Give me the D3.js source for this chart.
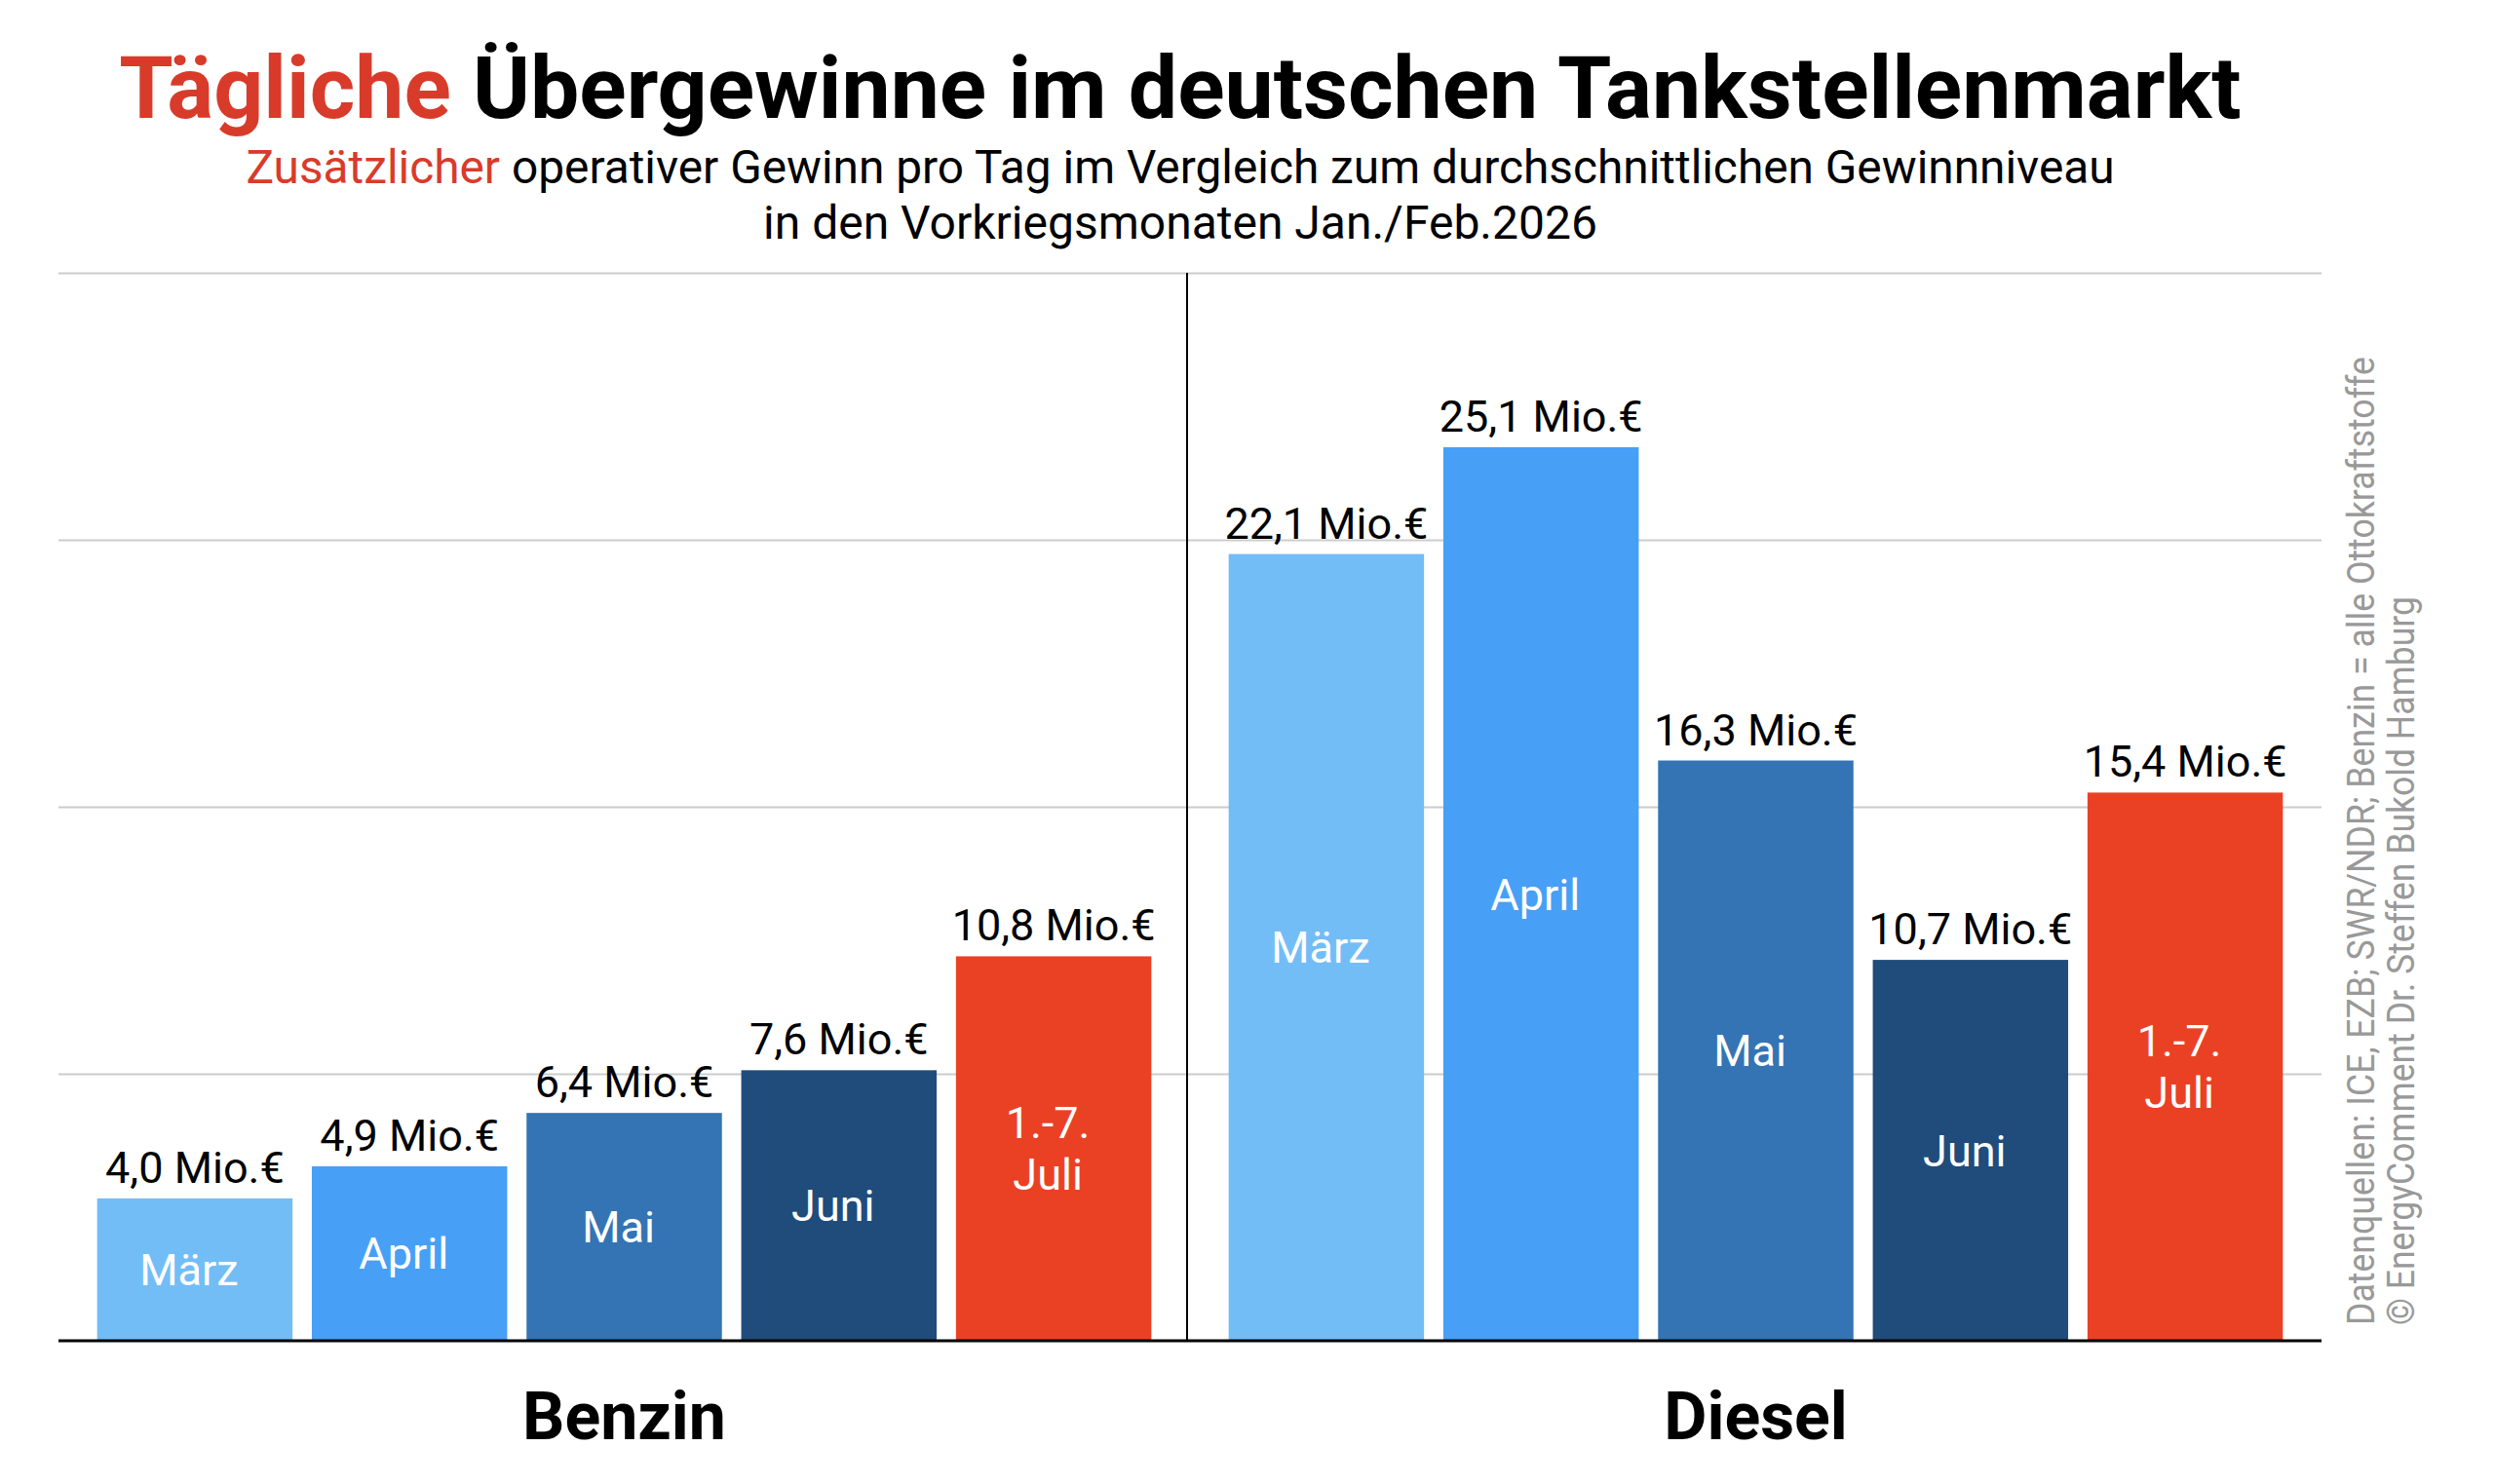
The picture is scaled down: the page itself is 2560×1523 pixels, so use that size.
<!DOCTYPE html>
<html>
<head>
<meta charset="utf-8">
<script src="https://cdn.jsdelivr.net/npm/d3@7"></script>
<style>
  body { margin: 0; background: #fff; }
  svg { font-family: Roboto, "Open Sans", sans-serif; }
</style>
</head>
<body>
<div id="chart"></div>
<script>
// Chart data
var categories = ["Benzin", "Diesel"];
var months = ["März", "April", "Mai", "Juni", "1.-7. Juli"];
var benzinValues = [4.0, 4.9, 6.4, 7.6, 10.8];
var dieselValues = [22.1, 25.1, 16.3, 10.7, 15.4];
var gridTicks = [7.5, 15, 22.5, 30];
var monthColors = ["#73bdf7", "#479ff6", "#3474b4", "#204c7c", "#ea4125"];
var sourceLines = [
    "Datenquellen: ICE, EZB; SWR/NDR; Benzin = alle Ottokraftstoffe",
    "© EnergyComment Dr. Steffen Bukold Hamburg"
];

// Chart params
var svgWidth = 2560;
var svgHeight = 1523;

var margin = {
    top: 280,
    right: 178,
    bottom: 147,
    left: 60
};

var width = svgWidth - margin.left - margin.right;
var height = svgHeight - margin.top - margin.bottom;

var svg = d3.select("#chart")
    .append("svg")
    .attr("width", svgWidth)
    .attr("height", svgHeight);

var chartGroup = svg.append("g")
    .attr("transform", `translate(${margin.left}, ${margin.top})`);

// rows for drawing
var rows = [];
categories.forEach(function(cat, ci) {
    var vals = ci === 0 ? benzinValues : dieselValues;
    months.forEach(function(m, mi) {
        rows.push({ cat: cat, month: m, value: vals[mi], color: monthColors[mi] });
    });
});

// Scales
var x0 = d3.scaleBand()
    .domain(categories)
    .range([0, width]);

var x1 = d3.scaleBand()
    .domain(months)
    .range([0, x0.bandwidth()])
    .paddingInner(0.09)
    .paddingOuter(0.18);

var yLinearScale = d3.scaleLinear()
    .domain([0, 30])
    .range([height, 0]);

// Gridlines
var grid = chartGroup.append("g")
    .call(d3.axisLeft(yLinearScale).tickValues(gridTicks).tickSize(-width).tickFormat(""));
grid.select(".domain").remove();
grid.selectAll(".tick line")
    .attr("stroke", "#cccccc")
    .attr("stroke-width", 2);

// Bars
chartGroup.selectAll("rect.bar")
    .data(rows)
    .enter()
    .append("rect")
    .attr("class", "bar")
    .attr("x", d => x0(d.cat) + x1(d.month))
    .attr("y", d => yLinearScale(d.value))
    .attr("width", x1.bandwidth())
    .attr("height", d => height - yLinearScale(d.value))
    .attr("fill", d => d.color);

// Value labels
chartGroup.selectAll("text.value")
    .data(rows)
    .enter()
    .append("text")
    .attr("class", "value")
    .attr("x", d => x0(d.cat) + x1(d.month) + x1.bandwidth() / 2)
    .attr("y", d => yLinearScale(d.value) - 16)
    .attr("text-anchor", "middle")
    .attr("font-size", 45)
    .attr("fill", "#000")
    .text(d => d.value.toFixed(1).replace(".", ",") + " Mio.€");

// Month labels inside bars
var lineGap = 53;
var inner = chartGroup.selectAll("text.inner")
    .data(rows)
    .enter()
    .append("text")
    .attr("class", "inner")
    .attr("text-anchor", "middle")
    .attr("font-size", 45)
    .attr("fill", "#fff");

inner.each(function(d) {
    var parts = d.month.split(" ");
    var cx = x0(d.cat) + x1(d.month) + x1.bandwidth() / 2 - 6;
    var mid = (yLinearScale(d.value) + height) / 2;
    var first = mid - (parts.length - 1) * lineGap / 2 + 16;
    d3.select(this).selectAll("tspan")
        .data(parts)
        .enter()
        .append("tspan")
        .attr("x", cx)
        .attr("y", (p, i) => first + i * lineGap)
        .text(p => p);
});

// Divider between Benzin and Diesel
chartGroup.append("line")
    .attr("x1", x0("Diesel") - 3)
    .attr("x2", x0("Diesel") - 3)
    .attr("y1", 0)
    .attr("y2", height)
    .attr("stroke", "#000")
    .attr("stroke-width", 2);

// Baseline
chartGroup.append("line")
    .attr("x1", 0)
    .attr("x2", width)
    .attr("y1", yLinearScale(0))
    .attr("y2", yLinearScale(0))
    .attr("stroke", "#000")
    .attr("stroke-width", 3);

// Category axis
var xAxis = chartGroup.append("g")
    .attr("transform", `translate(0, ${height})`)
    .call(d3.axisBottom(x0).tickSize(0));
xAxis.select(".domain").remove();
xAxis.selectAll("text")
    .attr("y", 101)
    .attr("dy", 0)
    .attr("font-family", "Roboto, sans-serif")
    .attr("font-size", 68)
    .attr("font-weight", 700)
    .attr("fill", "#000");

// Title
var cx = 1211;
var title = svg.append("text")
    .attr("x", cx)
    .attr("y", 121)
    .attr("text-anchor", "middle")
    .attr("font-size", 89.5)
    .attr("font-weight", 700);
title.append("tspan").attr("fill", "#d93b2b").text("Tägliche");
title.append("tspan").attr("fill", "#000").text(" Übergewinne im deutschen Tankstellenmarkt");

var sub1 = svg.append("text")
    .attr("x", cx)
    .attr("y", 188)
    .attr("text-anchor", "middle")
    .attr("font-size", 47.8);
sub1.append("tspan").attr("fill", "#d93b2b").text("Zusätzlicher");
sub1.append("tspan").attr("fill", "#000").text(" operativer Gewinn pro Tag im Vergleich zum durchschnittlichen Gewinnniveau");

svg.append("text")
    .attr("x", cx)
    .attr("y", 245)
    .attr("text-anchor", "middle")
    .attr("font-size", 48)
    .attr("fill", "#000")
    .text("in den Vorkriegsmonaten Jan./Feb.2026");

// Source note, rotated
var sourceLengths = [994, 748];
sourceLines.forEach(function(s, i) {
    svg.append("text")
        .attr("transform", `translate(${2436 + i * 41}, 1360) rotate(-90)`)
        .attr("text-anchor", "start")
        .attr("font-size", 38)
        .attr("fill", "#999999")
        .attr("textLength", sourceLengths[i])
        .attr("lengthAdjust", "spacingAndGlyphs")
        .text(s);
});
</script>
</body>
</html>
